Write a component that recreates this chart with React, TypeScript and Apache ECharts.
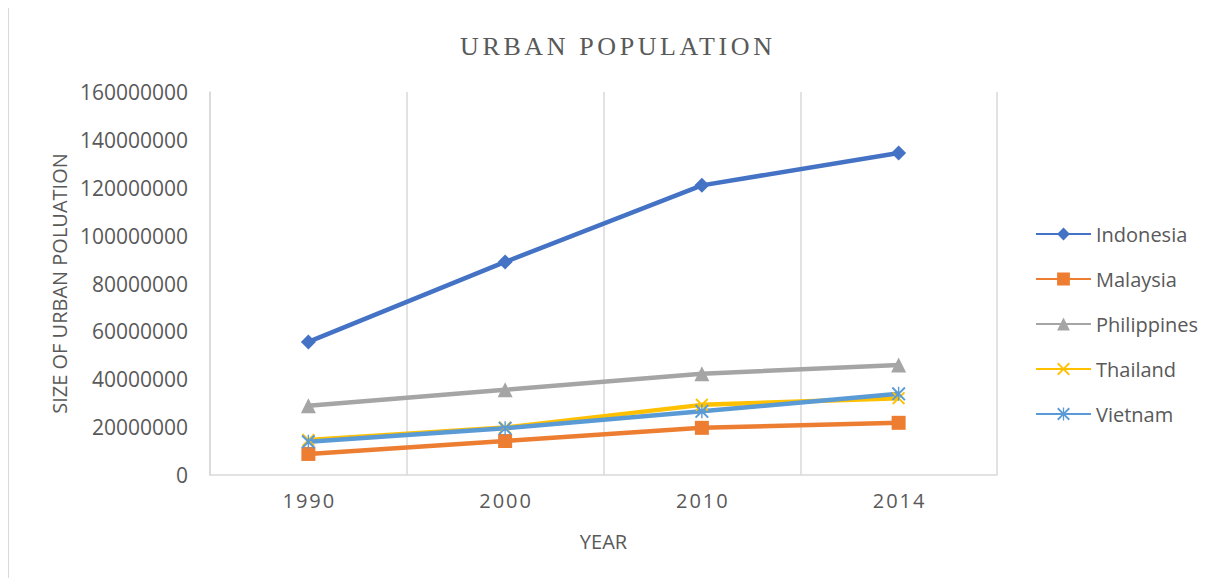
import React, { useEffect, useRef } from "react";
import * as echarts from "echarts";

// Urban population by country, census-style years
const years = ["1990", "2000", "2010", "2014"];
const indonesia = [55600000, 89000000, 121000000, 134500000];
const malaysia = [8800000, 14200000, 19700000, 21800000];
const philippines = [28900000, 35600000, 42300000, 46000000];
const thailand = [14600000, 19800000, 29300000, 32100000];
const vietnam = [13900000, 19500000, 26600000, 33900000];

const TITLE = "URBAN POPULATION";
const FONT = "'Open Sans', 'Noto Sans', sans-serif";
const TEXT = "#595959";
const GRID = "#d9d9d9";

// Marker shapes drawn as filled outlines
const crossPath =
  "path://M0,10 L10,0 L50,40 L90,0 L100,10 L60,50 L100,90 L90,100 L50,60 L10,100 L0,90 L40,50 Z";
const starPath =
  "path://M0,10 L10,0 L50,40 L90,0 L100,10 L60,50 L100,90 L90,100 L50,60 L10,100 L0,90 L40,50 Z M45,0 L55,0 L55,100 L45,100 Z";

function lineSeries(name: string, data: number[], color: string, symbol: string, size: number) {
  return {
    name,
    type: "line",
    data,
    symbol,
    symbolSize: size,
    color,
    lineStyle: { color, width: 4.5 },
    itemStyle: { color },
  };
}

// Spread out the letters of selected SVG text nodes
function spaceLetters(root: HTMLElement, spacing: Record<string, number>) {
  root.querySelectorAll("text").forEach((el) => {
    const s = spacing[el.textContent || ""];
    if (s === undefined) return;
    el.setAttribute("letter-spacing", String(s));
    const x = parseFloat(el.getAttribute("x") || "0");
    const anchor = el.getAttribute("text-anchor");
    // keep centred text centred once the trailing gap is added
    if (anchor === "middle") el.setAttribute("x", String(x + s / 2));
  });
}

export default function App() {
  const ref = useRef<HTMLDivElement>(null);

  useEffect(() => {
    if (!ref.current) return;
    const chart = echarts.init(ref.current, undefined, { renderer: "svg" });
    chart.setOption({
      animation: false,
      backgroundColor: "#ffffff",
      title: {
        text: TITLE,
        left: "center",
        top: 20,
        textStyle: {
          fontFamily: "'Liberation Serif', 'DejaVu Serif', serif",
          fontSize: 26,
          fontWeight: "normal",
          color: TEXT,
        },
      },
      graphic: [
        {
          type: "rect",
          shape: { x: 0.5, y: -0.5, width: 1400, height: 800 },
          style: { fill: "none", stroke: GRID, lineWidth: 1 },
          silent: true,
        },
      ],
      grid: { left: 202, right: 227, top: 84, bottom: 103 },
      legend: {
        orient: "vertical",
        left: 1022,
        top: 211,
        itemWidth: 55,
        itemHeight: 16,
        itemGap: 25,
        textStyle: { fontFamily: FONT, fontSize: 20, color: TEXT, lineHeight: 20 },
        data: ["Indonesia", "Malaysia", "Philippines", "Thailand", "Vietnam"],
      },
      xAxis: {
        type: "category",
        data: years,
        boundaryGap: true,
        name: "YEAR",
        nameLocation: "middle",
        nameGap: 56,
        nameTextStyle: { fontFamily: FONT, fontSize: 20, color: TEXT },
        axisLine: { show: true, lineStyle: { color: GRID, width: 1.5 } },
        axisTick: { show: false },
        axisLabel: { fontFamily: FONT, fontSize: 20, color: TEXT, margin: 15 },
        splitLine: { show: true, lineStyle: { color: GRID, width: 1.5 } },
      },
      yAxis: {
        type: "value",
        min: 0,
        max: 160000000,
        interval: 20000000,
        name: "SIZE OF URBAN POLUATION",
        nameLocation: "middle",
        nameRotate: 90,
        nameGap: 140,
        nameTextStyle: { fontFamily: FONT, fontSize: 20, color: TEXT },
        axisLine: { show: true, lineStyle: { color: GRID, width: 1.5 } },
        axisTick: { show: false },
        axisLabel: {
          fontFamily: FONT,
          fontSize: 21,
          color: TEXT,
          margin: 22,
          formatter: (v: number) => String(v),
        },
        splitLine: { show: false },
      },
      series: [
        lineSeries("Indonesia", indonesia, "#4472C4", "diamond", 15),
        lineSeries("Malaysia", malaysia, "#ED7D31", "rect", 14),
        lineSeries("Philippines", philippines, "#A5A5A5", "triangle", 15),
        lineSeries("Thailand", thailand, "#FFC000", crossPath, 13),
        lineSeries("Vietnam", vietnam, "#5B9BD5", starPath, 14),
      ],
    });
    const spacing: Record<string, number> = { [TITLE]: 3.6 };
    years.forEach((y) => (spacing[y] = 2));
    spaceLetters(ref.current, spacing);
    return () => chart.dispose();
  }, []);

  return <div ref={ref} style={{ width: 1216, height: 570 }} />;
}
